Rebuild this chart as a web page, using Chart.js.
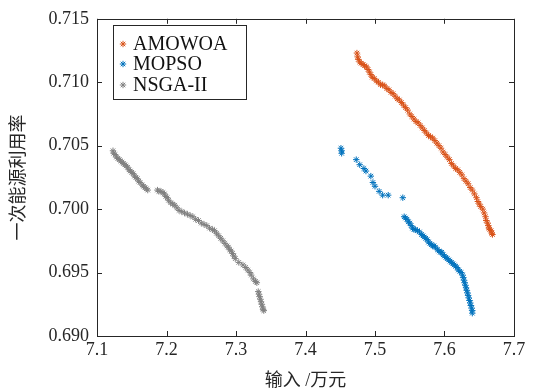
<!DOCTYPE html>
<html><head><meta charset="utf-8">
<script src="https://cdn.jsdelivr.net/npm/chart.js@4/dist/chart.umd.min.js"></script>
<style>html,body{margin:0;padding:0;background:#fff}#wrap{width:534px;height:392px}</style>
</head><body><div id="wrap"><canvas id="c" width="534" height="392"></canvas></div>
<script>
const seriesNames = ["AMOWOA", "MOPSO", "NSGA-II"];
const xTicks = [7.1, 7.2, 7.3, 7.4, 7.5, 7.6, 7.7];
const yTicks = [0.690, 0.695, 0.700, 0.705, 0.710, 0.715];
const xTitle = "输入 /万元";
const yTitle = "一次能源利用率";

const amowoaX = [7.474,7.475,7.476,7.478,7.480,7.483,7.485,7.488,7.490,7.492,7.494,7.496,7.499,7.502,7.505,7.508,7.511,7.514,7.517,7.520,7.523,7.526,7.529,7.532,7.535,7.538,7.541,7.544,7.547,7.550,7.553,7.556,7.559,7.562,7.565,7.568,7.571,7.574,7.577,7.580,7.583,7.586,7.589,7.592,7.595,7.598,7.601,7.604,7.607,7.610,7.613,7.616,7.619,7.622,7.625,7.628,7.631,7.634,7.637,7.640,7.643,7.646,7.648,7.650,7.652,7.655,7.657,7.659,7.660,7.662,7.663,7.664,7.665,7.667,7.668,7.669];
const amowoaY = [0.7123,0.7120,0.7118,0.7116,0.7115,0.7114,0.7113,0.7112,0.7110,0.7108,0.7106,0.7104,0.7103,0.7101,0.7100,0.7098,0.7098,0.7097,0.7095,0.7094,0.7092,0.7091,0.7089,0.7087,0.7086,0.7084,0.7082,0.7080,0.7078,0.7075,0.7073,0.7071,0.7069,0.7068,0.7066,0.7064,0.7062,0.7060,0.7058,0.7057,0.7056,0.7054,0.7052,0.7050,0.7048,0.7045,0.7043,0.7041,0.7039,0.7036,0.7034,0.7032,0.7031,0.7029,0.7027,0.7024,0.7022,0.7020,0.7017,0.7015,0.7012,0.7009,0.7006,0.7004,0.7002,0.7000,0.6997,0.6994,0.6991,0.6989,0.6987,0.6985,0.6984,0.6983,0.6981,0.6980];

const mopsoX = [7.451,7.452,7.452,7.473,7.478,7.484,7.487,7.494,7.497,7.500,7.506,7.511,7.519,7.540,7.542,7.544,7.546,7.548,7.550,7.552,7.554,7.556,7.558,7.561,7.564,7.567,7.569,7.571,7.573,7.575,7.577,7.579,7.581,7.583,7.585,7.587,7.590,7.592,7.594,7.596,7.598,7.600,7.602,7.604,7.606,7.608,7.610,7.612,7.614,7.616,7.618,7.620,7.622,7.624,7.626,7.627,7.628,7.629,7.630,7.631,7.632,7.633,7.634,7.635,7.636,7.637,7.638,7.639,7.640,7.640];
const mopsoY = [0.7048,0.7046,0.7044,0.7039,0.7035,0.7032,0.7030,0.7026,0.7021,0.7018,0.7014,0.7011,0.7011,0.7009,0.6994,0.6993,0.6992,0.6990,0.6989,0.6987,0.6985,0.6984,0.6984,0.6983,0.6982,0.6980,0.6979,0.6978,0.6977,0.6976,0.6974,0.6973,0.6972,0.6971,0.6971,0.6970,0.6968,0.6967,0.6966,0.6966,0.6964,0.6963,0.6962,0.6961,0.6960,0.6959,0.6958,0.6957,0.6956,0.6955,0.6954,0.6952,0.6951,0.6950,0.6948,0.6946,0.6944,0.6942,0.6940,0.6938,0.6936,0.6934,0.6932,0.6930,0.6928,0.6926,0.6924,0.6922,0.6920,0.6918];

const nsgaX = [7.123,7.124,7.126,7.128,7.130,7.132,7.134,7.136,7.138,7.140,7.142,7.144,7.146,7.148,7.150,7.152,7.154,7.156,7.158,7.160,7.162,7.165,7.167,7.169,7.171,7.173,7.187,7.189,7.192,7.195,7.197,7.199,7.201,7.203,7.206,7.209,7.212,7.215,7.218,7.222,7.226,7.230,7.234,7.238,7.242,7.246,7.250,7.254,7.258,7.262,7.266,7.269,7.272,7.275,7.278,7.281,7.284,7.287,7.289,7.291,7.293,7.295,7.297,7.299,7.304,7.310,7.314,7.317,7.320,7.322,7.325,7.328,7.330,7.332,7.333,7.334,7.335,7.336,7.337,7.338,7.339,7.340];
const nsgaY = [0.7046,0.7044,0.7043,0.7041,0.7040,0.7039,0.7038,0.7037,0.7036,0.7035,0.7034,0.7033,0.7031,0.7030,0.7029,0.7028,0.7026,0.7025,0.7024,0.7022,0.7021,0.7019,0.7018,0.7017,0.7016,0.7015,0.7015,0.7014,0.7014,0.7013,0.7012,0.7010,0.7009,0.7007,0.7005,0.7004,0.7003,0.7001,0.6999,0.6998,0.6997,0.6996,0.6995,0.6994,0.6992,0.6991,0.6989,0.6988,0.6987,0.6985,0.6984,0.6983,0.6981,0.6979,0.6977,0.6975,0.6973,0.6971,0.6970,0.6968,0.6967,0.6965,0.6963,0.6961,0.6958,0.6956,0.6954,0.6952,0.6950,0.6948,0.6945,0.6943,0.6942,0.6935,0.6933,0.6931,0.6929,0.6927,0.6925,0.6923,0.6921,0.6920];

const colors = ["#D95319", "#0072BD", "#808080"];
const serif = '"Liberation Serif", "DejaVu Serif", serif';
const cjk = '"Liberation Serif", "Noto Sans CJK SC", sans-serif';

function pts(xs, ys) { return xs.map((x, i) => ({x: x, y: ys[i]})); }

const datasets = [[amowoaX, amowoaY], [mopsoX, mopsoY], [nsgaX, nsgaY]].map((d, i) => ({
  label: seriesNames[i],
  data: pts(d[0], d[1]),
  pointStyle: 'star',
  pointRadius: 3.2,
  pointBorderWidth: 1,
  borderColor: colors[i],
  backgroundColor: colors[i],
  showLine: false
}));

const frame = {
  id: 'frame',
  afterDraw(chart) {
    const ctx = chart.ctx, a = chart.chartArea;
    const xs = chart.scales.x, ys = chart.scales.y;
    ctx.save();
    ctx.strokeStyle = '#262626';
    ctx.lineWidth = 1;
    ctx.strokeRect(Math.round(a.left) + 0.5, Math.round(a.top) + 0.5, Math.round(a.right - a.left), Math.round(a.bottom - a.top));
    ctx.beginPath();
    const L = 5;
    xTicks.forEach(v => {
      const p = Math.round(xs.getPixelForValue(v)) + 0.5;
      ctx.moveTo(p, a.bottom); ctx.lineTo(p, a.bottom - L);
      ctx.moveTo(p, a.top); ctx.lineTo(p, a.top + L);
    });
    yTicks.forEach(v => {
      const p = Math.round(ys.getPixelForValue(v)) + 0.5;
      ctx.moveTo(a.left, p); ctx.lineTo(a.left + L, p);
      ctx.moveTo(a.right, p); ctx.lineTo(a.right - L, p);
    });
    ctx.stroke();
    // legend
    const bx = 113.5, by = 25.5, bw = 133, bh = 74;
    ctx.fillStyle = '#fff';
    ctx.fillRect(bx, by, bw, bh);
    ctx.strokeRect(bx, by, bw, bh);
    ctx.font = '20px ' + serif;
    ctx.textBaseline = 'middle';
    ctx.textAlign = 'left';
    const rows = [44, 64, 85];
    seriesNames.forEach((n, i) => {
      const cx = 123, cy = rows[i], r = 3.2;
      ctx.strokeStyle = colors[i];
      ctx.beginPath();
      ctx.moveTo(cx - r, cy); ctx.lineTo(cx + r, cy);
      ctx.moveTo(cx, cy - r); ctx.lineTo(cx, cy + r);
      const d = r * 0.707;
      ctx.moveTo(cx - d, cy - d); ctx.lineTo(cx + d, cy + d);
      ctx.moveTo(cx - d, cy + d); ctx.lineTo(cx + d, cy - d);
      ctx.stroke();
      ctx.fillStyle = '#111';
      ctx.fillText(n, 133, cy + 1);
    });
    ctx.restore();
  }
};

function build() {
  new Chart(document.getElementById('c'), {
    type: 'scatter',
    data: { datasets: datasets },
    options: {
      responsive: false,
      animation: false,
      devicePixelRatio: 1,
      layout: { padding: { left: 8, top: 15, right: 20, bottom: 0 } },
      plugins: { legend: { display: false }, tooltip: { enabled: false } },
      scales: {
        x: {
          type: 'linear', min: 7.1, max: 7.7,
          afterFit(s) { s.height = 56; },
          afterBuildTicks(s) { s.ticks = xTicks.map(v => ({value: v})); },
          grid: { display: false, drawTicks: false },
          border: { display: false },
          ticks: { color: '#262626', font: { family: serif, size: 18 }, padding: 3, maxRotation: 0, callback: v => v.toFixed(1) },
          title: { display: true, text: xTitle, color: '#262626', font: { family: cjk, size: 18 }, padding: { top: 0, bottom: 0 } }
        },
        y: {
          type: 'linear', min: 0.69, max: 0.715,
          afterFit(s) { s.width = 89; },
          afterBuildTicks(s) { s.ticks = yTicks.map(v => ({value: v})); },
          grid: { display: false, drawTicks: false },
          border: { display: false },
          ticks: { color: '#262626', font: { family: serif, size: 18 }, padding: 8, callback: v => v.toFixed(3) },
          title: { display: true, text: yTitle, color: '#262626', font: { family: cjk, size: 18 }, padding: { top: 0, bottom: 2 } }
        }
      }
    },
    plugins: [frame]
  });
}
Promise.all([
  document.fonts.load('18px "Liberation Serif"'),
  document.fonts.load('18px "Noto Sans CJK SC"', '一次能源利用率输入万元')
]).then(build, build);
</script></body></html>
